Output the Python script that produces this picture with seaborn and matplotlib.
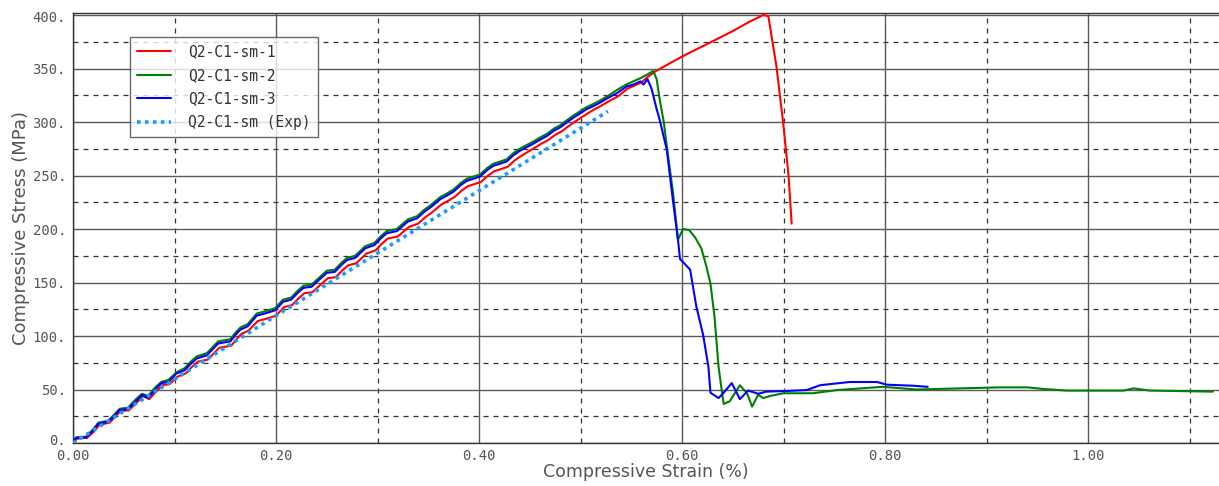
import numpy as np
import pandas as pd
import matplotlib
matplotlib.use("Agg")
import matplotlib.pyplot as plt
import matplotlib.transforms as mtransforms
import seaborn as sns
from matplotlib.ticker import FixedLocator

# ---------------- data ----------------
sm1_strain = [0.000, 0.004, 0.014, 0.021, 0.026, 0.036, 0.043, 0.047, 0.055, 0.063, 0.069, 0.075,
              0.082, 0.088, 0.095, 0.103, 0.111, 0.117, 0.123, 0.133, 0.139, 0.144, 0.156, 0.161,
              0.166, 0.173, 0.182, 0.190, 0.200, 0.208, 0.216, 0.222, 0.228, 0.236, 0.244, 0.251,
              0.259, 0.265, 0.271, 0.279, 0.289, 0.298, 0.304, 0.310, 0.320, 0.326, 0.331, 0.340,
              0.347, 0.353, 0.363, 0.369, 0.376, 0.383, 0.389, 0.402, 0.409, 0.415, 0.428, 0.435,
              0.441, 0.455, 0.462, 0.468, 0.475, 0.481, 0.488, 0.494, 0.507, 0.514, 0.520, 0.529,
              0.537, 0.546, 0.553, 0.560, 0.566, 0.574, 0.601, 0.625, 0.650, 0.667, 0.680, 0.685,
              0.693, 0.700, 0.705, 0.708]
sm1_stress = [0, 4, 5, 11, 17, 19, 26, 30, 30.5, 38, 44, 41,
              48, 54, 55, 62, 65, 71, 76, 78, 84, 89, 91, 97,
              102, 105, 114, 116, 119, 127, 129, 135, 140, 141, 148, 154,
              155, 161, 166, 168, 177, 180, 186, 191, 193, 198, 202, 205,
              211, 215, 223, 226, 230, 236, 240, 244, 250, 254, 258, 264,
              268, 276, 280, 283, 288, 291, 296, 300, 308, 312, 315, 320,
              324, 331, 334, 337, 342, 347.5, 361.7, 373, 385, 394, 400, 399,
              352, 296, 249, 205]

sm2_strain = [0.000, 0.003, 0.013, 0.020, 0.025, 0.035, 0.042, 0.046, 0.054, 0.062, 0.068, 0.074,
              0.081, 0.087, 0.094, 0.102, 0.110, 0.116, 0.122, 0.132, 0.138, 0.143, 0.155, 0.160,
              0.165, 0.172, 0.181, 0.189, 0.199, 0.207, 0.215, 0.221, 0.227, 0.235, 0.243, 0.250,
              0.258, 0.264, 0.270, 0.278, 0.288, 0.297, 0.303, 0.309, 0.319, 0.325, 0.330, 0.339,
              0.346, 0.352, 0.362, 0.368, 0.375, 0.382, 0.388, 0.401, 0.408, 0.414, 0.427, 0.434,
              0.440, 0.454, 0.461, 0.467, 0.474, 0.480, 0.487, 0.493, 0.506, 0.513, 0.519, 0.528,
              0.536, 0.545, 0.552, 0.559, 0.565, 0.5717, 0.575, 0.578, 0.582, 0.586, 0.591, 0.596,
              0.601, 0.607, 0.613, 0.619, 0.624, 0.628, 0.632, 0.636, 0.639, 0.641, 0.647, 0.657,
              0.664, 0.669, 0.675, 0.680, 0.687, 0.700, 0.716, 0.729, 0.753, 0.798, 0.831, 0.913,
              0.940, 0.956, 0.979, 1.035, 1.045, 1.061, 1.123]
sm2_stress = [0, 5, 6, 13, 19, 21, 28, 32, 33, 41, 46, 44,
              52, 57, 59, 66, 70, 76, 81, 84, 90, 95, 97, 103,
              108, 111, 121, 123, 126, 134, 136, 142, 147, 148, 155, 161,
              162, 168, 173, 175, 184, 187, 193, 198, 200, 205, 209, 212,
              218, 222, 230, 233, 237, 243, 247, 251, 257, 261, 265, 271,
              275, 282, 286, 289, 294, 297, 302, 306, 314, 317, 320, 325,
              330, 335, 338, 341, 344, 347.7, 340, 321, 300, 270, 235, 190,
              200, 199, 192, 182, 165, 149, 118, 71, 50, 36.5, 39, 54,
              46.5, 34, 45, 42, 44, 46.5, 46.5, 46.5, 49.5, 52.5, 50, 52,
              52, 50.5, 49, 49, 51, 49, 48]

sm3_strain = [0.000, 0.003, 0.013, 0.020, 0.025, 0.035, 0.042, 0.046, 0.054, 0.062, 0.068, 0.074,
              0.081, 0.087, 0.094, 0.102, 0.110, 0.116, 0.122, 0.132, 0.138, 0.143, 0.155, 0.160,
              0.165, 0.172, 0.181, 0.189, 0.199, 0.207, 0.215, 0.221, 0.227, 0.235, 0.243, 0.250,
              0.258, 0.264, 0.270, 0.278, 0.288, 0.297, 0.303, 0.309, 0.319, 0.325, 0.330, 0.339,
              0.346, 0.352, 0.362, 0.368, 0.375, 0.382, 0.388, 0.401, 0.408, 0.414, 0.427, 0.434,
              0.440, 0.454, 0.461, 0.467, 0.474, 0.480, 0.487, 0.493, 0.506, 0.513, 0.519, 0.528,
              0.536, 0.545, 0.552, 0.559, 0.562, 0.566, 0.570, 0.575, 0.578, 0.585, 0.591, 0.596,
              0.598, 0.608, 0.614, 0.621, 0.626, 0.628, 0.636, 0.641, 0.649, 0.657, 0.665, 0.675,
              0.683, 0.700, 0.723, 0.736, 0.765, 0.792, 0.802, 0.828, 0.842]
sm3_stress = [0, 5, 5, 12, 18, 20, 27, 31, 31.5, 39, 45, 42,
              50, 56, 57, 65, 68, 74, 79, 82, 88, 93, 95, 101,
              106, 109, 119, 121, 124, 132, 134, 140, 145, 146, 153, 159,
              160, 166, 171, 173, 182, 185, 191, 196, 198, 203, 207, 210,
              216, 220, 228, 231, 235, 241, 245, 249, 255, 259, 263, 269,
              273, 280, 284, 287, 292, 295, 300, 304, 312, 315, 318, 323,
              327, 333, 335, 338, 335, 340, 331, 312, 302, 274, 227, 190,
              172, 162, 128, 100, 71, 47, 42, 47, 56, 41, 49, 46,
              48, 48.5, 49.5, 54, 57, 57, 54.5, 53.5, 52.5]

exp_strain = [0.000, 0.200, 0.527]
exp_stress = [0, 119, 310]

labels = ["Q2-C1-sm-1", "Q2-C1-sm-2", "Q2-C1-sm-3", "Q2-C1-sm (Exp)"]
colors = ["#FF0000", "#008000", "#0000FF", "#1E9BFF"]

y_ticks = [0, 50, 100, 150, 200, 250, 300, 350, 400]
y_ticklabels = ["0.", "50.", "100.", "150.", "200.", "250.", "300.", "350.", "400."]
x_ticks = [0.0, 0.2, 0.4, 0.6, 0.8, 1.0]
x_ticklabels = ["0.00", "0.20", "0.40", "0.60", "0.80", "1.00"]

# ---------------- plot ----------------
sns.set_style("white")
plt.rcParams['font.family'] = ['DejaVu Sans']

fig = plt.figure(figsize=(12.19, 4.86), dpi=100)
ax = fig.add_axes([73 / 1219, 1 - 443 / 486, 1 - 73 / 1219, (443 - 13.4) / 486])

series = [(sm1_strain, sm1_stress), (sm2_strain, sm2_stress), (sm3_strain, sm3_stress), (exp_strain, exp_stress)]
for i, ((sx, sy), lab, col) in enumerate(zip(series, labels, colors)):
    df = pd.DataFrame({"strain": sx, "stress": sy})
    if i < 3:
        sns.lineplot(data=df, x="strain", y="stress", sort=False, estimator=None,
                     color=col, linewidth=1.5, label=lab, ax=ax, zorder=3 + i)
    else:
        sns.lineplot(data=df, x="strain", y="stress", sort=False, estimator=None,
                     color=col, linewidth=2.6, linestyle=(0, (1, 1.2)), label=lab, ax=ax, zorder=7)

ax.set_xlim(0, 1.129)
ax.set_ylim(0, 401.5)

ax.xaxis.set_major_locator(FixedLocator(x_ticks))
ax.set_xticklabels(x_ticklabels)
ax.yaxis.set_major_locator(FixedLocator(y_ticks))
ax.set_yticklabels(y_ticklabels)
ax.xaxis.set_minor_locator(FixedLocator([0.1, 0.3, 0.5, 0.7, 0.9, 1.1]))
ax.yaxis.set_minor_locator(FixedLocator([25, 75, 125, 175, 225, 275, 325, 375]))

ax.grid(which="major", color="#5a5a5a", linestyle="-", linewidth=1.0)
ax.grid(which="minor", color="#333333", linestyle=(0, (4, 4)), linewidth=0.9)
ax.set_axisbelow(True)

ax.tick_params(axis="both", which="both", length=0)
ax.tick_params(axis="x", which="major", pad=4, labelcolor="#555555")
ax.tick_params(axis="y", which="major", pad=5, labelcolor="#555555")
for t in ax.get_xticklabels() + ax.get_yticklabels():
    t.set_fontfamily("DejaVu Sans Mono")
    t.set_fontsize(10)
ylabs = ax.get_yticklabels()
ylabs[0].set_transform(ylabs[0].get_transform() + mtransforms.ScaledTranslation(0, 4 / 100, fig.dpi_scale_trans))
ylabs[-1].set_transform(ylabs[-1].get_transform() + mtransforms.ScaledTranslation(0, -1 / 100, fig.dpi_scale_trans))

ax.set_xlabel("Compressive Strain (%)", fontsize=12.5, color="#555555", labelpad=0)
ax.set_ylabel("Compressive Stress (MPa)", fontsize=13, color="#555555", labelpad=2)

for s in ["left", "bottom", "top"]:
    ax.spines[s].set_color("#333333")
    ax.spines[s].set_linewidth(1.0)
ax.spines["right"].set_visible(False)

leg = ax.legend(loc="upper left", bbox_to_anchor=(57 / 1146, (443 - 37) / 429.6),
                borderaxespad=0, frameon=True, fancybox=False, handlelength=2.3,
                labelspacing=0.58, handletextpad=1.2, borderpad=0.5,
                prop={"family": "DejaVu Sans Mono", "size": 10.5})
leg.get_frame().set_edgecolor("#444444")
leg.get_frame().set_linewidth(1.0)
for t in leg.get_texts():
    t.set_color("#333333")

fig.savefig("out.png", dpi=100)
